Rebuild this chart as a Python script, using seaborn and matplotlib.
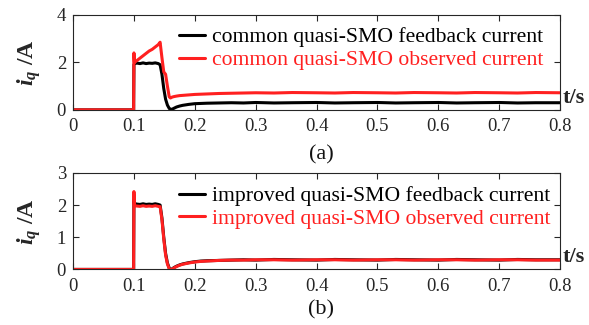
import numpy as np
import pandas as pd
import matplotlib
matplotlib.use("Agg")
import matplotlib.pyplot as plt
import seaborn as sns

# ---------------- data ----------------
t_a = [0, 0.0995, 0.1, 0.1008, 0.105, 0.11, 0.115, 0.12, 0.125, 0.13, 0.135, 0.14,
       0.143, 0.146, 0.149, 0.152, 0.155, 0.158, 0.16, 0.163, 0.166, 0.17, 0.175,
       0.18, 0.19, 0.2, 0.21, 0.22, 0.24, 0.26, 0.28, 0.3, 0.33, 0.36, 0.4, 0.43,
       0.46, 0.5, 0.53, 0.56, 0.6, 0.63, 0.66, 0.7, 0.73, 0.76, 0.8]
fb_a = [0, 0, 1.90, 1.95, 1.97, 1.95, 1.98, 1.95, 1.97, 1.96, 1.98, 1.95,
        1.90, 1.50, 0.90, 0.45, 0.20, 0.06, 0.02, 0.03, 0.07, 0.12, 0.16,
        0.19, 0.23, 0.26, 0.27, 0.28, 0.29, 0.30, 0.29, 0.31, 0.29, 0.30, 0.31, 0.29,
        0.30, 0.31, 0.29, 0.30, 0.31, 0.29, 0.30, 0.31, 0.29, 0.30, 0.30]
ob_a = [0, 0, 2.40, 2.00, 2.08, 2.18, 2.28, 2.38, 2.48, 2.55, 2.65, 2.75,
        2.85, 2.20, 1.60, 1.50, 1.00, 0.55, 0.50, 0.54, 0.56, 0.58, 0.60,
        0.61, 0.63, 0.65, 0.66, 0.67, 0.69, 0.70, 0.71, 0.72, 0.71, 0.73, 0.72, 0.71,
        0.73, 0.72, 0.71, 0.73, 0.72, 0.71, 0.73, 0.72, 0.71, 0.73, 0.72]

t_b = [0, 0.0995, 0.1, 0.1008, 0.105, 0.11, 0.115, 0.12, 0.125, 0.13, 0.135, 0.14,
       0.143, 0.146, 0.149, 0.152, 0.155, 0.158, 0.16, 0.163, 0.166, 0.17, 0.175,
       0.18, 0.19, 0.2, 0.21, 0.22, 0.24, 0.26, 0.28, 0.3, 0.33, 0.36, 0.4, 0.43,
       0.46, 0.5, 0.53, 0.56, 0.6, 0.63, 0.66, 0.7, 0.73, 0.76, 0.8]
fb_b = [0, 0, 2.20, 2.05, 2.03, 2.02, 2.04, 2.02, 2.03, 2.02, 2.04, 2.02,
        2.00, 1.60, 1.00, 0.50, 0.20, 0.04, -0.01, 0.02, 0.06, 0.10, 0.14,
        0.17, 0.21, 0.24, 0.26, 0.27, 0.28, 0.29, 0.30, 0.29, 0.31, 0.30, 0.29, 0.31,
        0.30, 0.29, 0.31, 0.30, 0.29, 0.31, 0.30, 0.29, 0.31, 0.30, 0.30]
ob_b = [0, 0, 2.42, 1.98, 1.97, 1.96, 1.98, 1.96, 1.97, 1.96, 1.98, 1.96,
        1.95, 1.55, 0.95, 0.45, 0.17, 0.02, -0.02, 0.01, 0.05, 0.09, 0.13,
        0.16, 0.20, 0.23, 0.25, 0.26, 0.28, 0.29, 0.29, 0.30, 0.30, 0.29, 0.30, 0.30,
        0.29, 0.30, 0.30, 0.29, 0.30, 0.30, 0.29, 0.30, 0.30, 0.29, 0.29]

labels_a = ["common quasi-SMO feedback current", "common quasi-SMO observed current"]
labels_b = ["improved quasi-SMO feedback current", "improved quasi-SMO observed current"]
xticks = [0, 0.1, 0.2, 0.3, 0.4, 0.5, 0.6, 0.7, 0.8]
xticklabels = ["0", "0.1", "0.2", "0.3", "0.4", "0.5", "0.6", "0.7", "0.8"]
yticks_a = [0, 2, 4]
yticks_b = [0, 1, 2, 3]
panel_titles = ["(a)", "(b)"]

# ---------------- style ----------------
sns.set_style("ticks")
plt.rcParams["font.family"] = ["Liberation Serif", "DejaVu Serif"]
plt.rcParams["mathtext.fontset"] = "custom"
plt.rcParams["mathtext.it"] = "Liberation Serif:italic:bold"
plt.rcParams["mathtext.rm"] = "Liberation Serif:bold"

BLACK = "#000000"
RED = "#FF2020"
GREY = "#262626"

fig = plt.figure(figsize=(5.89, 3.25), dpi=100)
ax_a = fig.add_axes([0.124, 0.662, 0.827, 0.292])
ax_b = fig.add_axes([0.124, 0.171, 0.827, 0.297])


def draw(ax, t, fb, ob, labels, yticks, title, leg_y, title_y):
    df = pd.DataFrame({
        "t": list(t) + list(t),
        "i": list(fb) + list(ob),
        "s": [labels[0]] * len(t) + [labels[1]] * len(t),
    })
    sns.lineplot(data=df, x="t", y="i", hue="s", palette=[BLACK, RED],
                 hue_order=labels, ax=ax, linewidth=2.2, estimator=None,
                 sort=False)
    ax.set_xlim(0, 0.8)
    ax.set_ylim(yticks[0], yticks[-1])
    ax.set_xticks(xticks)
    ax.set_xticklabels(xticklabels)
    ax.set_yticks(yticks)
    ax.tick_params(direction="in", top=True, right=True, length=4,
                   labelsize=13.5, colors=GREY, labelcolor=GREY, width=0.8)
    ax.tick_params(axis="x", pad=6)
    ax.tick_params(axis="y", pad=5)
    for sp in ax.spines.values():
        sp.set_color(GREY)
        sp.set_linewidth(0.8)
        sp.set_visible(True)
    ax.set_xlabel("")
    ax.set_ylabel(r"$i_q$ /A", fontsize=17, fontweight="bold", labelpad=10)
    ax.legend(loc="upper left", frameon=False, fontsize=15.6,
              handlelength=1.2, handletextpad=0.3, labelspacing=0.12,
              borderpad=0, borderaxespad=0, bbox_to_anchor=(0.218, leg_y),
              labelcolor="linecolor")
    ax.text(1.004, 0.13, "t/s", transform=ax.transAxes, fontsize=16,
            fontweight="bold", ha="left", va="center")
    ax.text(0.51, title_y, title, transform=ax.transAxes, fontsize=16,
            ha="center", va="center", color="#111111")


draw(ax_a, t_a, fb_a, ob_a, labels_a, yticks_a, panel_titles[0], 0.87, -0.47)
draw(ax_b, t_b, fb_b, ob_b, labels_b, yticks_b, panel_titles[1], 0.865, -0.42)

fig.savefig("out.png", dpi=100)
